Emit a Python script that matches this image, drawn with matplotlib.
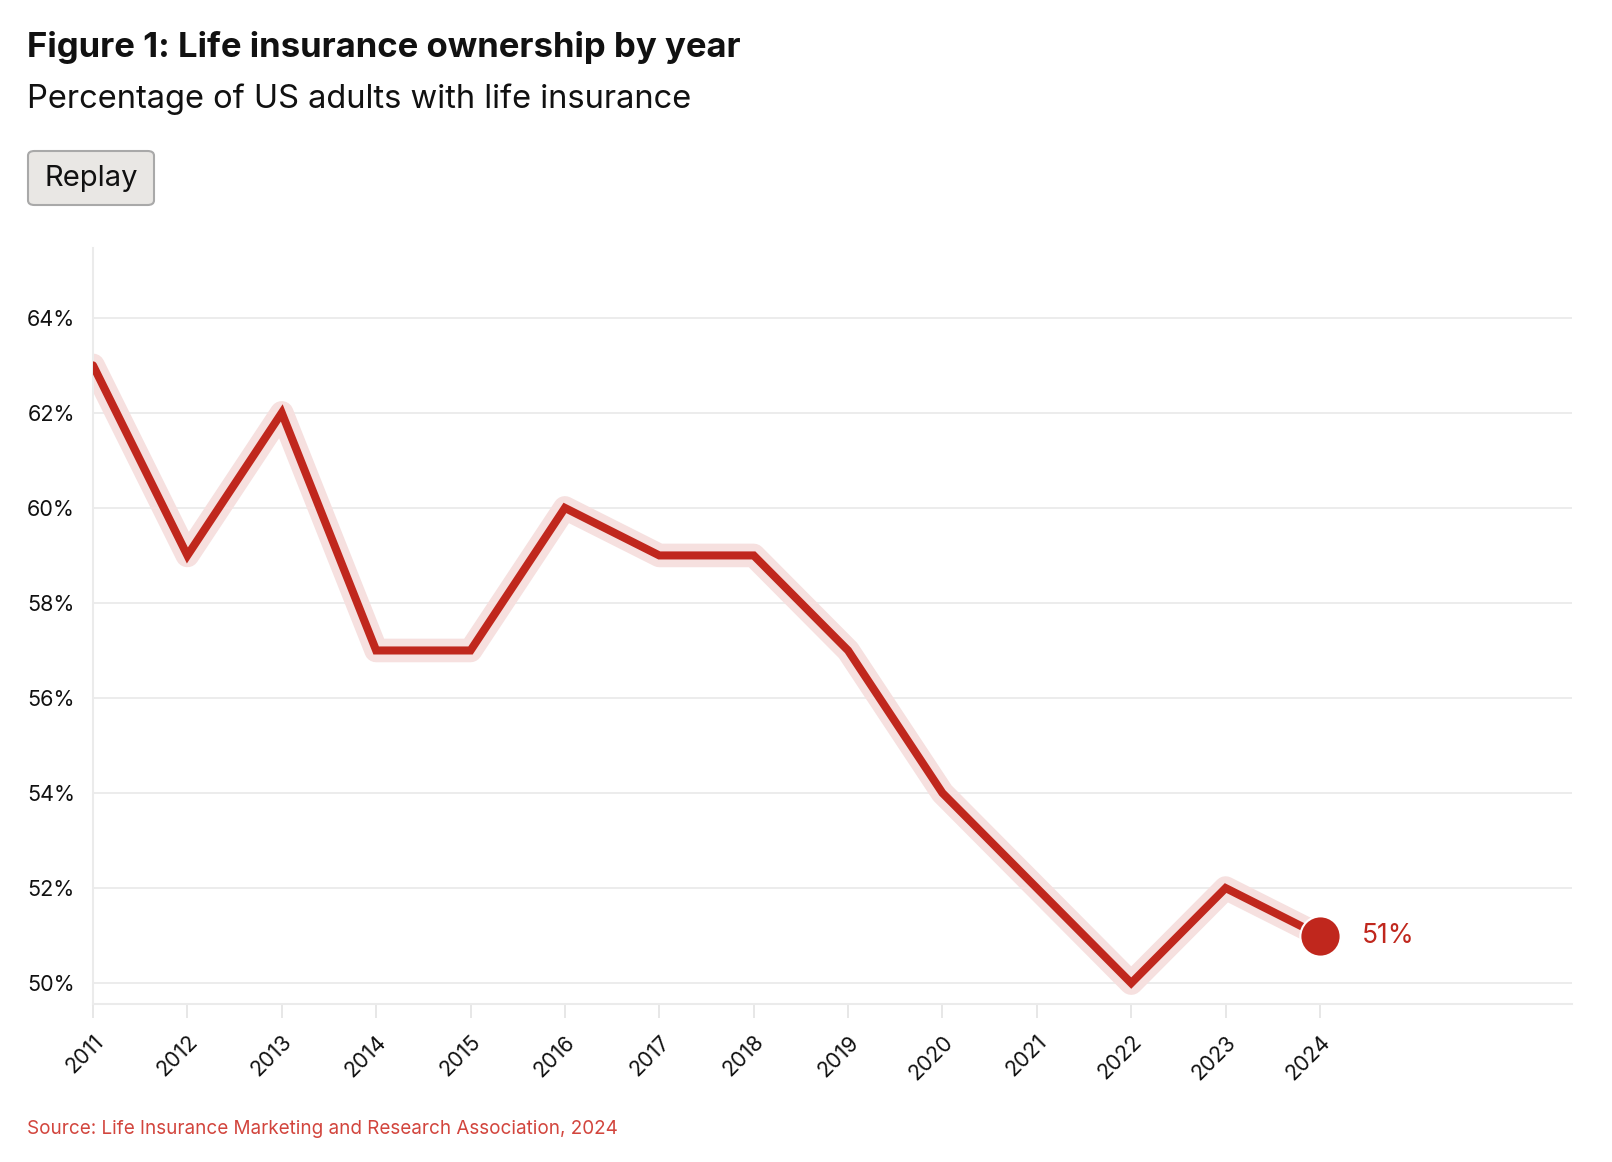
import matplotlib
matplotlib.use("Agg")
import matplotlib.pyplot as plt
from matplotlib.patches import FancyBboxPatch

years = [2011, 2012, 2013, 2014, 2015, 2016, 2017, 2018, 2019, 2020, 2021, 2022, 2023, 2024]
ownership = [63, 59, 62, 57, 57, 60, 59, 59, 57, 54, 52, 50, 52, 51]
y_ticks = [50, 52, 54, 56, 58, 60, 62, 64]
y_tick_labels = [f"{v}%" for v in y_ticks]

title = "Figure 1: Life insurance ownership by year"
subtitle = "Percentage of US adults with life insurance"
source = "Source: Life Insurance Marketing and Research Association, 2024"

RED = "#c0271d"
GLOW = "#f6e0df"
FONT = ["Inter", "DejaVu Sans"]

W, H = 1612, 1162
fig = plt.figure(figsize=(W / 100, H / 100), dpi=100)
fig.patch.set_facecolor("white")

ax = fig.add_axes([93 / W, 1 - 1004 / H, (1572 - 93) / W, (1004 - 248) / H])
ax.set_xlim(2011, 2026.67)
ax.set_ylim(49.56, 65.47)

for v in y_ticks:
    ax.axhline(v, color="#ebebeb", lw=1.3, zorder=0)

ax.plot(years, ownership, color=GLOW, lw=17, solid_joinstyle="round",
        solid_capstyle="round", zorder=2)
ax.plot(years, ownership, color=RED, lw=5.8, solid_joinstyle="miter",
        solid_capstyle="round", zorder=3)
ax.plot([years[-1]], [ownership[-1]], "o", color=RED, markersize=29,
        markeredgecolor="white", markeredgewidth=1.5, zorder=4)
ax.annotate(f"{ownership[-1]}%", (years[-1], ownership[-1]), xytext=(30, 0),
            textcoords="offset points", color=RED, fontsize=19, va="center",
            ha="left", family=FONT)

ax.set_yticks(y_ticks)
ax.set_yticklabels(y_tick_labels, family=FONT, fontsize=15.5, color="#111111")
ax.set_xticks(years)
ax.set_xticklabels([str(y) for y in years], rotation=45, ha="right",
                   rotation_mode="anchor", family=FONT, fontsize=15.5, color="#111111")
ax.tick_params(axis="y", length=0, pad=13)
ax.tick_params(axis="x", length=10, width=1.3, color="#e5e5e5", pad=10)

for s in ["top", "right"]:
    ax.spines[s].set_visible(False)
for s in ["left", "bottom"]:
    ax.spines[s].set_color("#ebebeb")
    ax.spines[s].set_linewidth(1.5)

fig.text(27 / W, 1 - 47 / H, title, fontsize=25, fontweight="bold",
         family=FONT, va="center", ha="left", color="#111111")
fig.text(27 / W, 1 - 99 / H, subtitle, fontsize=23.5, family=FONT,
         va="center", ha="left", color="#111111")

btn = FancyBboxPatch((28 / W, 1 - 205 / H), (154 - 28) / W, (205 - 151) / H,
                     boxstyle="round,pad=0,rounding_size=0.004",
                     transform=fig.transFigure, facecolor="#e9e7e4",
                     edgecolor="#a9a9a9", linewidth=1.5)
fig.patches.append(btn)
fig.text(91 / W, 1 - 179 / H, "Replay", fontsize=21, family=FONT,
         va="center", ha="center", color="#111111")

fig.text(27 / W, 1 - 1129 / H, source, fontsize=13.6, family=FONT,
         va="center", ha="left", color="#d2453d")

fig.savefig("out.png", dpi=100)
